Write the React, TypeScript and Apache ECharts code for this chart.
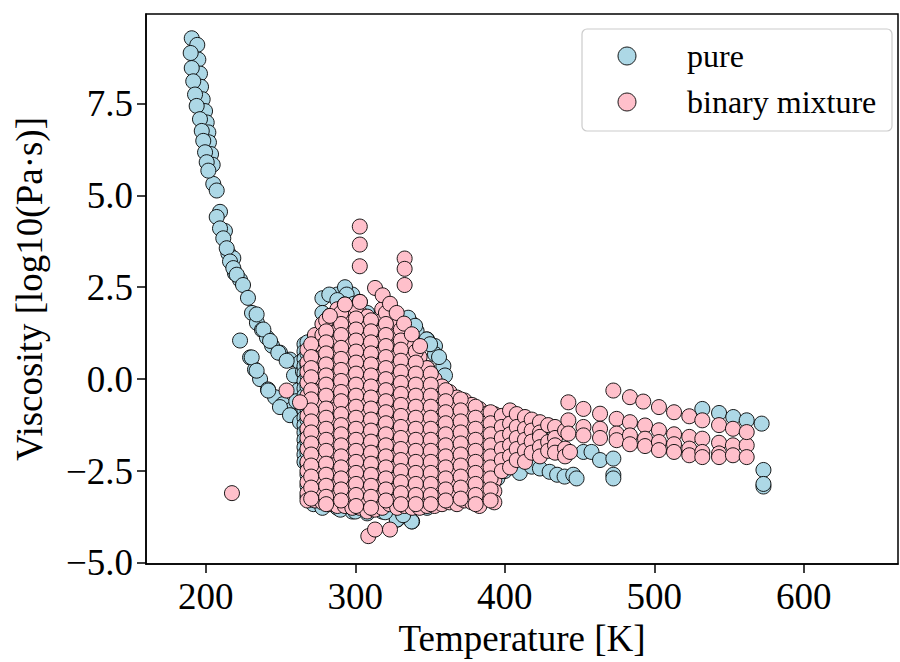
import React, { useEffect, useRef } from "react";
import * as echarts from "echarts";

// ---------- data (Temperature [K], log10 viscosity) ----------
const pureCurve: number[][] = [
  [190.6, 9.27], [194.3, 9.09], [195.0, 8.69], [196.1, 8.31], [196.8, 7.95], [197.9, 7.61],
  [199.5, 7.29], [200.6, 6.98], [201.7, 6.71], [202.1, 6.44], [203.5, 6.12], [204.6, 5.83],
  [205.0, 5.31], [207.3, 5.13], [209.5, 4.55], [212.8, 4.03], [215.1, 3.42], [218.4, 3.29],
  [219.5, 2.88], [222.9, 2.70],
  [189.9, 8.87], [190.6, 8.46], [191.6, 8.10], [192.8, 7.74], [193.9, 7.43], [196.1, 7.07],
  [197.3, 6.75], [198.3, 6.48], [199.5, 6.17], [200.6, 5.90], [201.7, 5.67], [207.3, 4.41],
  [209.5, 4.10], [211.7, 3.83], [214.0, 3.56], [216.2, 3.20], [218.4, 3.02], [220.7, 2.84],
  [224.9, 2.56], [228.2, 2.21], [230.9, 1.80], [234.2, 1.53], [237.6, 1.34], [240.9, 1.13],
  [244.3, 0.91], [249.6, 0.72], [256.3, 0.53], [263.0, 0.45],
  [222.9, 1.05], [229.6, 0.59], [232.9, 0.26], [236.3, 0.0], [241.6, -0.28], [246.3, -0.49],
  [251.6, -0.68], [257.7, -0.82], [263.0, -0.98], [266.4, -1.17],
  [234.0, 1.76], [238.5, 1.35], [243.0, 1.04], [248.5, 0.72], [254.1, 0.5], [230.7, 0.59],
  [234.0, 0.23], [241.8, -0.31], [249.6, -0.76], [256.3, -0.98], [263.0, -1.17],
  [259.0, 0.1], [262.0, -0.3], [260.5, -0.6], [265.0, 0.2],
];

const pureClusterT: number[] = [266, 268, 272, 278, 288, 298, 308, 318, 328, 338, 348];
const pureClusterY: number[][] = [
  [0.95, 0.75, 0.55, 0.35, 0.15, -0.05, -0.25, -0.45, -0.65, -0.85, -1.05, -1.25, -1.45, -1.65, -1.85, -2.05, -2.25],
  [1.0, 0.7, 0.4, 0.1, -0.2, -0.5, -0.8, -1.1, -1.4, -1.7, -2.0, -2.3, -2.6, -2.9, -3.2],
  [0.9, 0.5, 0.1, -0.3, -0.7, -1.1, -1.5, -1.9, -2.3, -2.7, -3.1, -3.4],
  [2.2, 1.8, 1.0, 0.2, -0.6, -1.4, -2.2, -3.0, -3.5],
  [2.3, 1.5, 0.5, -0.5, -1.5, -2.5, -3.5],
  [2.3, 1.4, 0.4, -0.6, -1.6, -2.6, -3.6],
  [1.8, 0.8, -0.2, -1.2, -2.2, -3.2, -3.65],
  [1.2, 0.2, -0.8, -1.8, -2.8, -3.6],
  [1.6, 0.5, -0.5, -1.5, -2.5, -3.82],
  [1.5, 0.4, -0.6, -1.6, -2.6, -3.87],
  [1.08, 0.3, -0.7, -1.7, -2.7, -3.5],
];

const pureEdges: number[][] = [
  [282.6, 2.30], [293.1, 2.5], [294.2, 2.3], [288.0, 2.15], [299.0, 2.05],
  [335.4, 1.67], [341.0, 1.31], [347.7, 1.08], [353.3, 0.9], [353.3, 0.68], [358.9, 0.36],
  [340.0, 1.45], [350.0, 0.95], [356.0, 0.6], [360.0, 0.1],
  [327.7, -3.82], [337.7, -3.87], [332.0, -3.7], [320.0, -3.62], [300.0, -3.6], [290.0, -3.55],
  [380, -2.6], [390, -2.62], [395, -2.7], [400, -2.5], [410, -2.55], [418, -2.38], [423.5, -2.43],
  [430, -2.52], [435, -2.6], [440, -2.65], [445.8, -2.6], [448, -2.7], [452.6, -1.98],
  [458, -1.98], [463.7, -2.2], [472.6, -2.16], [472.6, -2.6], [472.6, -2.7],
  [532.1, -0.81], [543.3, -0.92], [552.8, -1.03], [561.8, -1.12], [571.8, -1.21],
  [573.0, -2.47], [573.0, -2.92], [573.0, -2.85],
];

const mixCluster_T: number[] = [
  268, 273, 278, 283, 288, 293, 298, 303, 308, 313, 318, 323, 328, 333, 338, 343, 348, 353,
  358, 363, 368, 373, 378, 383, 388, 393,
];
const mixCluster_Y: number[][] = [
  [0.8, 0.45, 0.2, -0.1, -0.45, -0.7, -1.0, -1.35, -1.6, -1.9, -2.25, -2.5, -2.8, -3.1, -3.3],
  [1.2, 0.9, 0.55, 0.3, 0.0, -0.3, -0.65, -0.9, -1.2, -1.5, -1.85, -2.1, -2.4, -2.7, -3.0, -3.3],
  [1.5, 1.2, 0.9, 0.6, 0.25, 0.0, -0.3, -0.6, -0.95, -1.2, -1.5, -1.8, -2.1, -2.45, -2.7, -3.0, -3.35],
  [1.72, 1.45, 1.15, 0.85, 0.55, 0.25, -0.05, -0.35, -0.65, -0.95, -1.25, -1.55, -1.85, -2.15, -2.45, -2.75, -3.05, -3.4],
  [1.9, 1.6, 1.3, 1.0, 0.7, 0.4, 0.1, -0.2, -0.5, -0.8, -1.1, -1.4, -1.7, -2.0, -2.3, -2.6, -2.9, -3.2, -3.45],
  [2.03, 1.7, 1.4, 1.1, 0.8, 0.5, 0.2, -0.1, -0.4, -0.7, -1.0, -1.3, -1.6, -1.9, -2.2, -2.5, -2.8, -3.1, -3.45],
  [1.85, 1.55, 1.25, 0.95, 0.65, 0.35, 0.05, -0.25, -0.55, -0.85, -1.15, -1.45, -1.75, -2.05, -2.35, -2.65, -2.95, -3.25, -3.5],
  [2.1, 1.8, 1.5, 1.2, 0.9, 0.6, 0.3, 0.0, -0.3, -0.6, -0.9, -1.2, -1.5, -1.8, -2.1, -2.4, -2.7, -3.0, -3.3, -3.5],
  [1.7, 1.4, 1.1, 0.8, 0.5, 0.2, -0.1, -0.4, -0.7, -1.0, -1.3, -1.6, -1.9, -2.2, -2.5, -2.8, -3.1, -3.4, -3.6],
  [1.5, 1.2, 0.9, 0.6, 0.3, 0.0, -0.3, -0.6, -0.9, -1.2, -1.5, -1.8, -2.1, -2.4, -2.7, -3.0, -3.3, -3.55],
  [1.9, 1.6, 1.3, 1.0, 0.7, 0.4, 0.1, -0.2, -0.5, -0.8, -1.1, -1.4, -1.7, -2.0, -2.3, -2.6, -2.9, -3.2, -3.5],
  [1.7, 1.4, 1.1, 0.8, 0.5, 0.2, -0.1, -0.4, -0.7, -1.0, -1.3, -1.6, -1.9, -2.2, -2.5, -2.8, -3.1, -3.4],
  [1.45, 1.2, 0.9, 0.6, 0.3, 0.0, -0.3, -0.6, -0.9, -1.2, -1.5, -1.8, -2.1, -2.4, -2.7, -3.0, -3.3, -3.5],
  [1.25, 1.0, 0.7, 0.4, 0.1, -0.2, -0.5, -0.8, -1.1, -1.4, -1.7, -2.0, -2.3, -2.6, -2.9, -3.2, -3.45],
  [0.9, 0.6, 0.3, 0.0, -0.3, -0.6, -0.9, -1.2, -1.5, -1.8, -2.1, -2.4, -2.7, -3.0, -3.3, -3.5],
  [0.6, 0.3, 0.0, -0.3, -0.6, -0.9, -1.2, -1.5, -1.8, -2.1, -2.4, -2.7, -3.0, -3.3, -3.5],
  [0.3, 0.0, -0.3, -0.6, -0.9, -1.2, -1.5, -1.8, -2.1, -2.4, -2.7, -3.0, -3.3, -3.45],
  [0.0, -0.3, -0.6, -0.9, -1.2, -1.5, -1.8, -2.1, -2.4, -2.7, -3.0, -3.3, -3.45],
  [-0.2, -0.5, -0.8, -1.1, -1.4, -1.7, -2.0, -2.3, -2.6, -2.9, -3.2, -3.4],
  [-0.35, -0.65, -0.95, -1.25, -1.55, -1.85, -2.15, -2.45, -2.75, -3.05, -3.35],
  [-0.5, -0.8, -1.1, -1.4, -1.7, -2.0, -2.3, -2.6, -2.9, -3.2, -3.4],
  [-0.58, -0.9, -1.2, -1.5, -1.8, -2.1, -2.4, -2.7, -3.0, -3.3],
  [-0.7, -1.0, -1.3, -1.6, -1.9, -2.2, -2.5, -2.8, -3.1, -3.35],
  [-0.81, -1.1, -1.4, -1.7, -2.0, -2.3, -2.6, -2.9, -3.2, -3.45],
  [-0.94, -1.2, -1.5, -1.8, -2.1, -2.4, -2.7, -3.0],
  [-0.95, -1.17, -1.57, -1.85, -2.15, -2.45, -2.75, -3.05, -3.35],
];

const mixMid_T: number[] = [270.5, 280.5, 290.5, 300.5, 310.5, 320.5, 330.5, 340.5, 350.5, 360.5, 370.5, 380.5, 390.5];
const mixMid_Y: number[][] = [
  [0.95, 0.6, 0.3, 0.05, -0.3, -0.55, -0.85, -1.15, -1.45, -1.75, -2.05, -2.35, -2.65, -2.95, -3.25],
  [1.6, 1.3, 1.0, 0.7, 0.4, 0.1, -0.15, -0.45, -0.8, -1.05, -1.35, -1.65, -1.95, -2.3, -2.6, -2.9, -3.2, -3.4],
  [1.8, 1.5, 1.2, 0.85, 0.55, 0.25, -0.05, -0.35, -0.6, -0.95, -1.25, -1.5, -1.8, -2.1, -2.4, -2.7, -3.0, -3.3],
  [1.95, 1.65, 1.35, 1.05, 0.75, 0.45, 0.15, -0.15, -0.45, -0.75, -1.05, -1.35, -1.65, -1.95, -2.25, -2.55, -2.85, -3.15, -3.45],
  [1.6, 1.3, 1.0, 0.7, 0.4, 0.1, -0.2, -0.5, -0.8, -1.1, -1.4, -1.7, -2.0, -2.3, -2.6, -2.9, -3.2, -3.5],
  [1.8, 1.5, 1.2, 0.9, 0.6, 0.3, 0.0, -0.3, -0.6, -0.9, -1.2, -1.5, -1.8, -2.1, -2.4, -2.7, -3.0, -3.3],
  [1.35, 1.05, 0.8, 0.5, 0.2, -0.1, -0.4, -0.7, -1.0, -1.3, -1.6, -1.9, -2.2, -2.5, -2.8, -3.1, -3.4],
  [0.75, 0.45, 0.15, -0.15, -0.45, -0.75, -1.05, -1.35, -1.65, -1.95, -2.25, -2.55, -2.85, -3.15, -3.4],
  [0.15, -0.15, -0.45, -0.75, -1.05, -1.35, -1.65, -1.95, -2.25, -2.55, -2.85, -3.15, -3.4],
  [-0.3, -0.6, -0.9, -1.2, -1.5, -1.8, -2.1, -2.4, -2.7, -3.0, -3.3],
  [-0.55, -0.85, -1.15, -1.45, -1.75, -2.05, -2.35, -2.65, -2.95, -3.25],
  [-0.75, -1.05, -1.35, -1.65, -1.95, -2.25, -2.55, -2.85, -3.15, -3.4],
  [-0.9, -1.2, -1.5, -1.8, -2.1, -2.4, -2.7, -3.0, -3.3],
];

const mixOther: number[][] = [
  [217.5, -3.1],
  [303.0, 4.15], [303.0, 3.66], [303.0, 3.07], [333.0, 3.28], [333.0, 3.0], [333.0, 2.56],
  [313.2, 2.48], [318.3, 2.28], [323.2, 2.05], [327.7, 1.80], [332.6, 1.51], [337.8, 1.22], [343.3, 0.90],
  [293.1, 2.03], [303.1, 2.1], [283.0, 1.72],
  [308.7, -4.27], [313.2, -4.09], [323.2, -4.09],
  [254.0, -0.31], [263.0, -0.63],
  [398, -1.0], [398, -1.3], [398, -1.6], [398, -1.9], [398, -2.2], [398, -2.5],
  [403.5, -0.85], [403.5, -1.21], [403.5, -1.5], [403.5, -1.8], [403.5, -2.1], [403.5, -2.4],
  [408, -0.95], [408, -1.3], [408, -1.6], [408, -1.9], [408, -2.2],
  [413.5, -1.03], [413.5, -1.35], [413.5, -1.65], [413.5, -1.95], [413.5, -2.25],
  [418, -1.1], [418, -1.4], [418, -1.7], [418, -2.0],
  [423.5, -1.17], [423.5, -1.45], [423.5, -1.57], [423.5, -1.85], [423.5, -2.1],
  [429, -1.25], [429, -1.71], [429, -1.95],
  [433.6, -1.30], [433.6, -1.6], [433.6, -1.80], [433.6, -2.0],
  [440.3, -1.4], [440.3, -1.89], [440.3, -2.1], [443.6, -1.98],
  [442.5, -0.63], [442.5, -1.12], [442.5, -1.48],
  [452.6, -0.81], [452.6, -1.30], [452.6, -1.53],
  [463.7, -0.94], [463.7, -1.35], [463.7, -1.6],
  [474.8, -1.08], [474.8, -1.48], [474.8, -1.66],
  [483.7, -1.17], [483.7, -1.53], [483.7, -1.77],
  [493.8, -1.26], [493.8, -1.62], [493.8, -1.82],
  [503.1, -1.39], [503.1, -1.71], [503.1, -1.93],
  [513.2, -1.50], [513.2, -1.77], [513.2, -1.98],
  [523.4, -1.57], [523.4, -1.89], [523.4, -2.07],
  [532.1, -1.62], [532.1, -1.98], [532.1, -2.12],
  [543.3, -1.73], [543.3, -2.02], [543.3, -2.12],
  [552.6, -1.80], [552.6, -2.07],
  [561.8, -1.80], [561.8, -2.12],
  [472.6, -0.31], [483.7, -0.49], [492.6, -0.61], [503.1, -0.76], [513.2, -0.9],
  [523.4, -1.01], [532.1, -1.12], [543.3, -1.25], [552.6, -1.35], [561.8, -1.44],
];

const xTicks: number[] = [200, 300, 400, 500, 600];
const yTicks: number[] = [-5, -2.5, 0, 2.5, 5, 7.5];
const seriesNames: string[] = ["pure", "binary mixture"];

const FONT = "'Liberation Serif', 'Times New Roman', serif";
const BLUE = "#ADD8E6";
const PINK = "#FFC0CB";

function columns(ts: number[], ys: number[][]): number[][] {
  const out: number[][] = [];
  ts.forEach((t, i) => ys[i].forEach((y) => out.push([t, y])));
  return out;
}

export default function App() {
  const ref = useRef<HTMLDivElement>(null);
  useEffect(() => {
    if (!ref.current) return;
    const chart = echarts.init(ref.current, undefined, { renderer: "svg" });
    const pureData = [...pureCurve, ...columns(pureClusterT, pureClusterY), ...pureEdges];
    const mixData = [...columns(mixCluster_T, mixCluster_Y), ...columns(mixMid_T, mixMid_Y), ...mixOther];
    const fmt = (v: number) => v.toFixed(1).replace("-", "\u2212");
    chart.setOption({
      animation: false,
      backgroundColor: "#fff",
      grid: { left: 146, right: 2, top: 14, bottom: 95, show: true, borderColor: "#000", borderWidth: 1.5, backgroundColor: "transparent" },
      xAxis: {
        type: "value", min: 160, max: 663,
        name: "Temperature [K]", nameLocation: "middle", nameGap: 54,
        nameTextStyle: { fontFamily: FONT, fontSize: 37, color: "#000" },
        axisLine: { show: true, onZero: false, lineStyle: { color: "#000", width: 1.5 } },
        axisTick: { show: true, length: 9, lineStyle: { color: "#000", width: 1.5 }, customValues: xTicks },
        axisLabel: { fontFamily: FONT, fontSize: 37, color: "#000", margin: 14, customValues: xTicks, formatter: (v: number) => String(v) },
        splitLine: { show: false },
      },
      yAxis: {
        type: "value", min: -5.03, max: 9.93,
        name: "Viscosity [log10(Pa\u00b7s)]", nameLocation: "middle", nameGap: 98, nameRotate: 90,
        nameTextStyle: { fontFamily: FONT, fontSize: 37, color: "#000" },
        axisLine: { show: true, onZero: false, lineStyle: { color: "#000", width: 1.5 } },
        axisTick: { show: true, length: 9, lineStyle: { color: "#000", width: 1.5 }, customValues: yTicks },
        axisLabel: { fontFamily: FONT, fontSize: 37, color: "#000", margin: 13, customValues: yTicks, formatter: fmt },
        splitLine: { show: false },
      },
      series: [
        { name: seriesNames[0], type: "scatter", data: pureData, symbolSize: 15,
          itemStyle: { color: BLUE, borderColor: "#000", borderWidth: 0.9, opacity: 1 } },
        { name: seriesNames[1], type: "scatter", data: mixData, symbolSize: 15,
          itemStyle: { color: PINK, borderColor: "#000", borderWidth: 0.9, opacity: 1 } },
      ],
      graphic: [
        { type: "rect", shape: { x: 582, y: 29, width: 310, height: 102, r: 5 },
          style: { fill: "rgba(255,255,255,0.8)", stroke: "#cccccc", lineWidth: 1.2 }, z: 100 },
        { type: "circle", shape: { cx: 627, cy: 56, r: 9 }, style: { fill: BLUE, stroke: "#000", lineWidth: 0.9 }, z: 101 },
        { type: "circle", shape: { cx: 627, cy: 102, r: 9 }, style: { fill: PINK, stroke: "#000", lineWidth: 0.9 }, z: 101 },
        { type: "text", x: 687, y: 56, style: { text: seriesNames[0], fontFamily: FONT, fontSize: 32, fill: "#000", verticalAlign: "middle" }, z: 101 },
        { type: "text", x: 687, y: 102, style: { text: seriesNames[1], fontFamily: FONT, fontSize: 32, fill: "#000", verticalAlign: "middle" }, z: 101 },
      ],
    });
    return () => chart.dispose();
  }, []);
  return <div ref={ref} style={{ position: "absolute", left: 0, top: 0, width: 900, height: 662 }} />;
}
